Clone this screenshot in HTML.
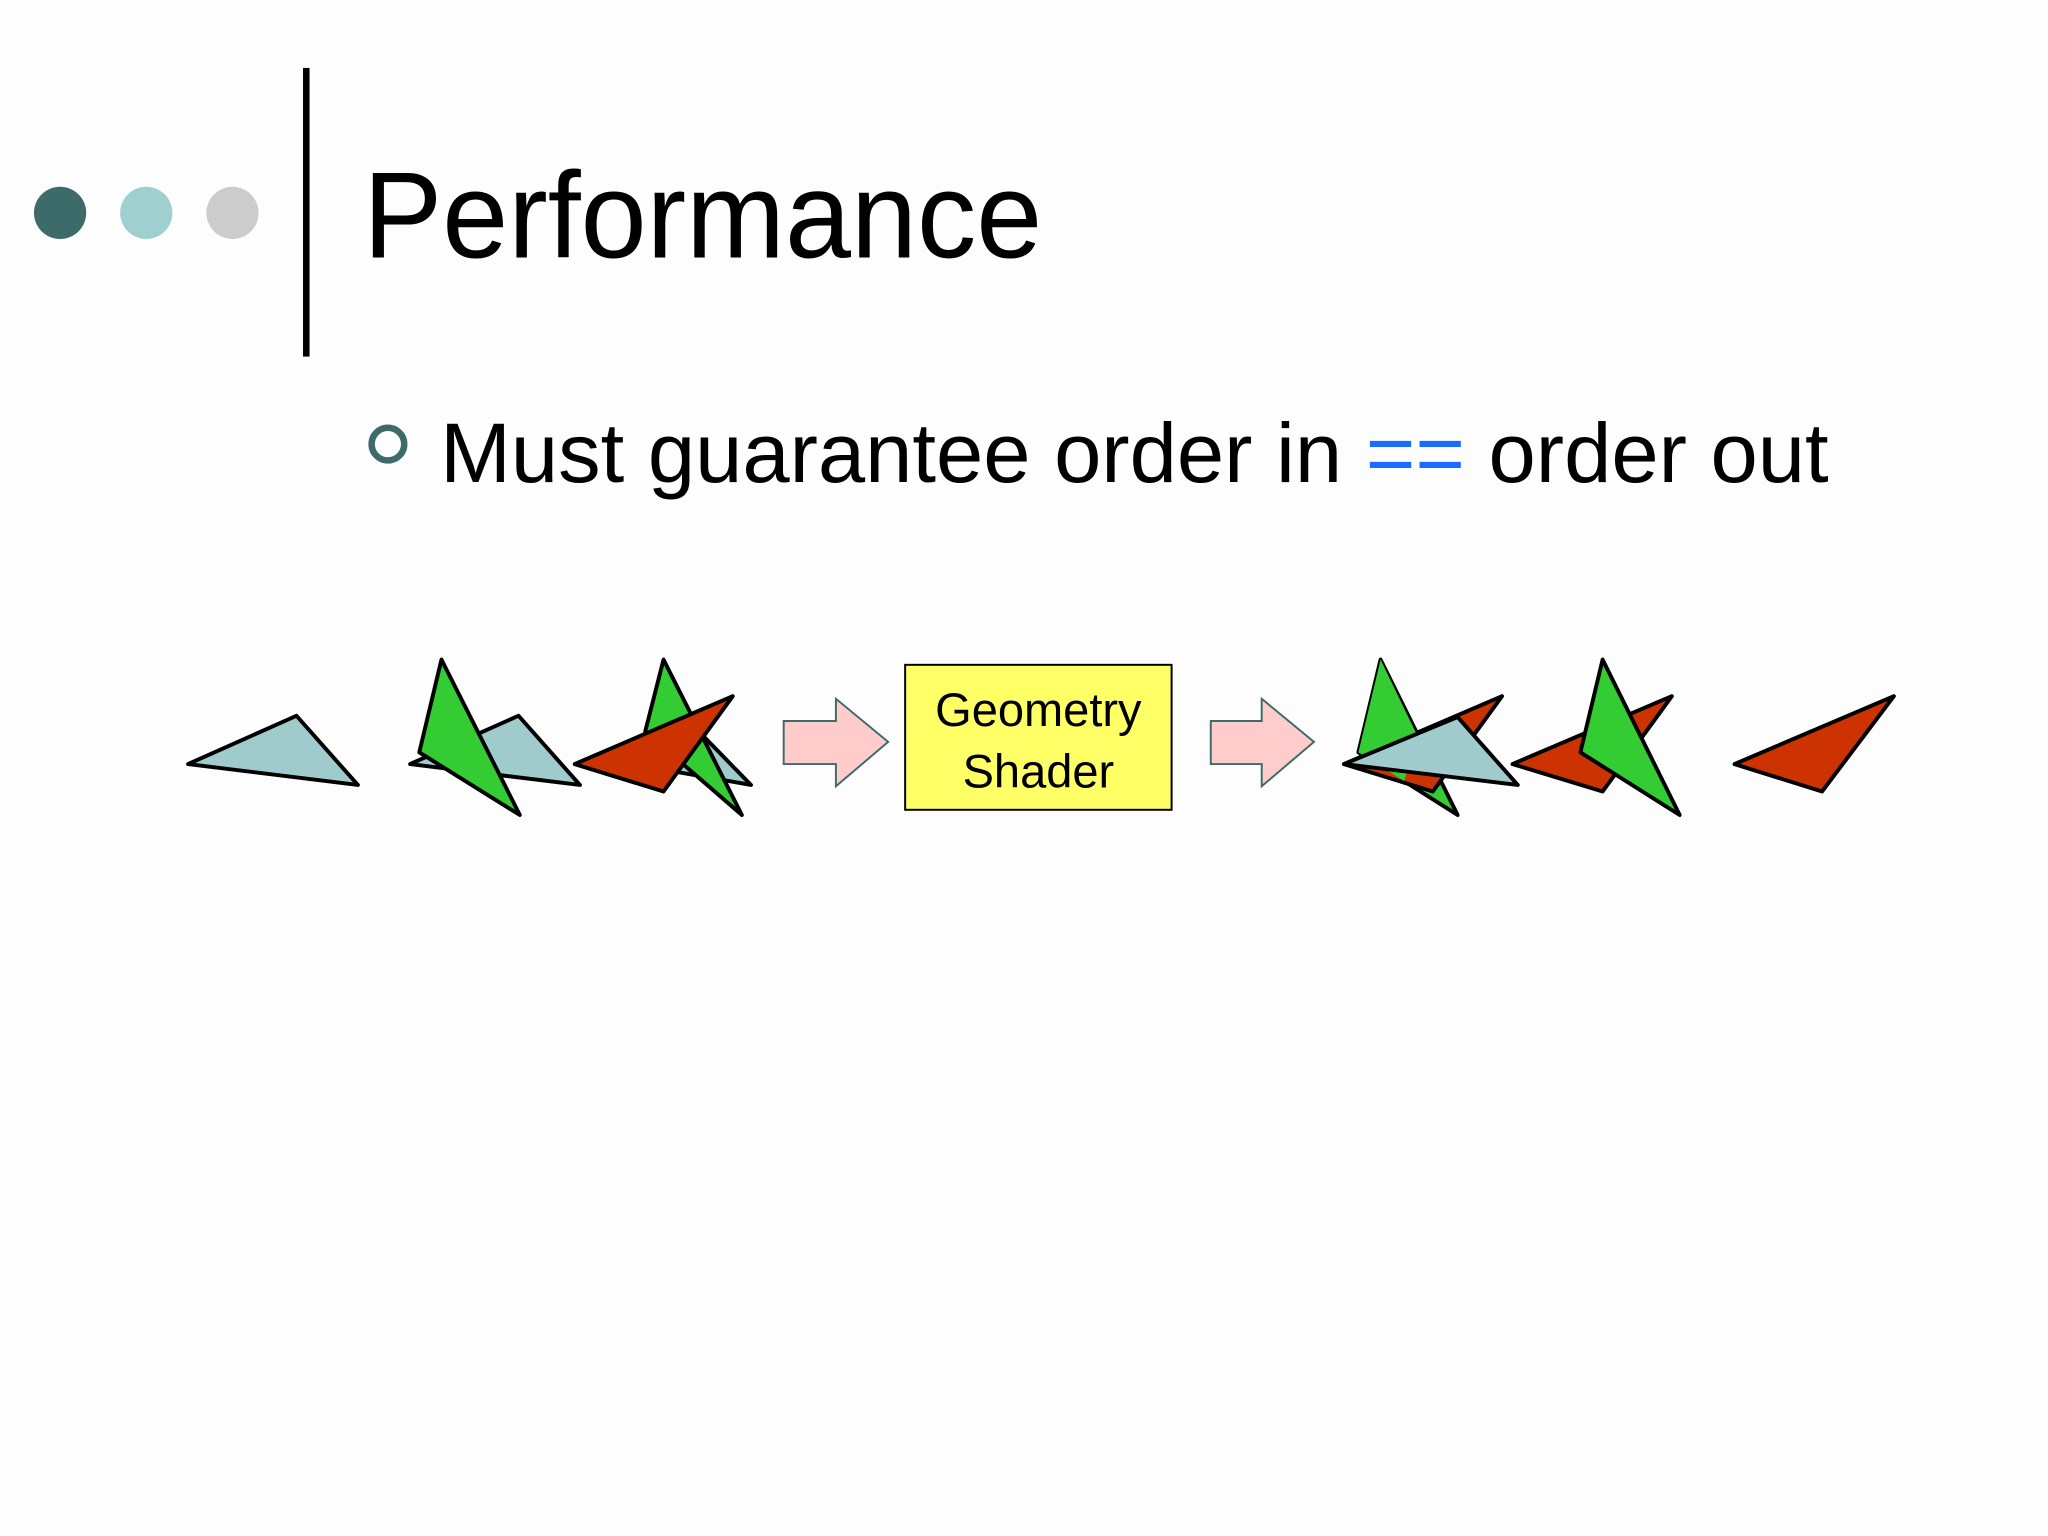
<!DOCTYPE html>
<html><head><meta charset="utf-8"><style>
html,body{margin:0;padding:0;background:#fdfdfd;}
svg{display:block;}
</style></head><body>
<svg width="2048" height="1536" viewBox="0 0 1568 1176" preserveAspectRatio="none" xmlns="http://www.w3.org/2000/svg">
<rect width="1568" height="1176" fill="#fdfdfd"/>
<circle cx="46" cy="163" r="20" fill="#3d6b69"/>
<circle cx="112" cy="163" r="20" fill="#9fcfcf"/>
<circle cx="178" cy="163" r="20" fill="#cccccd"/>
<rect x="232" y="52" width="5" height="221" fill="#000"/>
<text x="278" y="197" font-family="Liberation Sans, sans-serif" font-size="94" textLength="520" lengthAdjust="spacingAndGlyphs" fill="#000">Performance</text>
<circle cx="297" cy="340" r="12.5" fill="none" stroke="#3d6b69" stroke-width="5"/>
<text x="337" y="369" font-family="Liberation Sans, sans-serif" font-size="65" textLength="1063" lengthAdjust="spacingAndGlyphs" fill="#000">Must guarantee order in <tspan fill="#1a6cff">==</tspan> order out</text>
<g stroke="#000" stroke-width="3" stroke-linejoin="round">
<polygon points="144,585 227,548 274,601" fill="#9fcbcc"/>
<polygon points="314,585 397,548 444,601" fill="#9fcbcc"/>
<polygon points="338,505 321,576 398,624" fill="#33cc33"/>
<polygon points="484,585 535,560 575,601" fill="#9fcbcc"/>
<polygon points="508,505 494,560 568,624" fill="#33cc33"/>
<polygon points="440,585 561,533 508,606" fill="#cc3300"/>
<polygon points="1057,505 1040,576 1116,624" fill="#33cc33"/>
<polygon points="1029,585 1150,533 1097,606" fill="#cc3300"/>
<polygon points="1057,505 1040,576 1075,598 1086,565" fill="#33cc33" stroke="none"/>
<polygon points="1029,585 1116,549 1162,601" fill="#9fcbcc"/>
<polygon points="1158,585 1280,533 1227,606" fill="#cc3300"/>
<polygon points="1227,505 1210,576 1286,624" fill="#33cc33"/>
<polygon points="1328,585 1450,533 1395,606" fill="#cc3300"/>
</g>
<g fill="#ffcccc" stroke="#3d6b69" stroke-width="1.5">
<polygon points="600,552 640,552 640,535 680,568 640,602 640,585 600,585"/>
<polygon points="927,552 966,552 966,535 1006,568 966,602 966,585 927,585"/>
</g>
<rect x="693" y="509" width="204" height="111" fill="#ffff66" stroke="#000" stroke-width="1.5"/>
<text x="795" y="556" text-anchor="middle" font-family="Liberation Sans, sans-serif" font-size="36" fill="#000">Geometry</text>
<text x="795" y="603" text-anchor="middle" font-family="Liberation Sans, sans-serif" font-size="36" fill="#000">Shader</text>
</svg>
</body></html>
